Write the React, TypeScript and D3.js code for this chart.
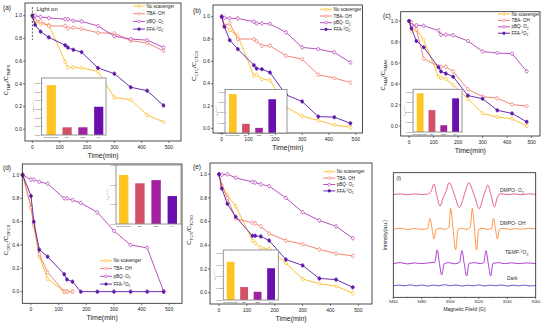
import React from "react";
import * as d3 from "d3";

const FONT = "'Liberation Sans', Arial, Helvetica, sans-serif";

// sampling times (min)
const times = [0, 10, 30, 60, 120, 130, 150, 180, 240, 300, 360, 420, 480];
const timesD = [-30, 0, 10, 30, 60, 120, 130, 150, 180, 240, 300, 360, 420, 480];
const xTicks = [0, 100, 200, 300, 400, 500];
const yTicks = [0, 0.2, 0.4, 0.6, 0.8, 1.0];

const lineColors = ["#FBBA1A", "#F0776A", "#B23DB6", "#5A17A8"];
const barColors = ["#FDC422", "#D45069", "#A1229F", "#6B0FAE"];
const barCats = ["No scavenger", "TBA", "pBQ", "FFA"];

// (a)
const aNo = [1.0, 0.95, 0.93, 0.92, 0.595, 0.545, 0.545, 0.54, 0.51, 0.28, 0.26, 0.126, 0.065];
const aTBA = [1.0, 0.96, 0.95, 0.91, 0.91, 0.89, 0.895, 0.885, 0.85, 0.845, 0.78, 0.76, 0.69];
const aPBQ = [1.0, 1.0, 0.99, 0.98, 0.97, 0.97, 0.955, 0.95, 0.91, 0.82, 0.795, 0.785, 0.72];
const aFFA = [1.0, 0.92, 0.86, 0.81, 0.74, 0.72, 0.7, 0.68, 0.54, 0.49, 0.37, 0.34, 0.21];
const aK = [0.00577, 0.00089, 0.00089, 0.00327];
const aKTicks = [0, 0.001, 0.002, 0.003, 0.004, 0.005, 0.006];

// (b)
const bNo = [1.0, 0.92, 0.88, 0.83, 0.47, 0.48, 0.44, 0.43, 0.19, 0.11, 0.07, 0.03, 0.01];
const bTBA = [1.0, 0.92, 0.94, 0.8, 0.8, 0.78, 0.74, 0.74, 0.65, 0.62, 0.48, 0.45, 0.41];
const bPBQ = [1.0, 0.99, 0.985, 0.985, 0.955, 0.94, 0.94, 0.935, 0.86, 0.725, 0.71, 0.68, 0.59];
const bFFA = [1.0, 0.91, 0.79, 0.71, 0.565, 0.535, 0.53, 0.5, 0.3, 0.24, 0.105, 0.1, 0.045];
const bK = [0.0076, 0.0018, 0.001, 0.0066];

// (c)
const cNo = [1.0, 0.905, 0.92, 0.82, 0.47, 0.46, 0.45, 0.39, 0.26, 0.12, 0.085, 0.07, 0.0];
const cTBA = [1.0, 0.99, 0.92, 0.64, 0.57, 0.565, 0.565, 0.52, 0.35, 0.28, 0.265, 0.205, 0.19];
const cPBQ = [1.0, 0.96, 0.96, 0.955, 0.91, 0.87, 0.87, 0.865, 0.81, 0.71, 0.695, 0.69, 0.52];
const cFFA = [1.0, 0.93, 0.81, 0.75, 0.56, 0.52, 0.5, 0.47, 0.29, 0.26, 0.15, 0.12, 0.04];
const cK = [0.0077, 0.00435, 0.00134, 0.0067];

// (d) starts at -30 min
const dNo = [1.0, 0.73, 0.56, 0.3, 0.11, 0, 0, 0];
const dTBA = [1.0, 0.72, 0.58, 0.32, 0.165, 0, 0, 0];
const dPBQ = [1.0, 0.96, 0.96, 0.94, 0.925, 0.8, 0.8, 0.785, 0.76, 0.68, 0.52, 0.4, 0.375, 0.0];
const dFFA = [1.0, 0.82, 0.6, 0.36, 0.3, 0.15, 0.105, 0.085, 0, 0, 0, 0, 0, 0];
const dK = [0.0249, 0.0207, 0.0223, 0.0142];
const dKTicks = [0, 0.01, 0.02, 0.03];

// (e)
const eNo = [1.0, 0.91, 0.82, 0.73, 0.44, 0.42, 0.38, 0.37, 0.25, 0.115, 0.075, 0.055, -0.005];
const eTBA = [1.0, 0.9, 0.8, 0.625, 0.59, 0.585, 0.56, 0.5, 0.44, 0.41, 0.365, 0.33, 0.31];
const ePBQ = [1.0, 0.995, 1.0, 0.97, 0.935, 0.93, 0.915, 0.9, 0.8, 0.68, 0.61, 0.56, 0.46];
const eFFA = [1.0, 0.88, 0.75, 0.64, 0.48, 0.48, 0.475, 0.44, 0.28, 0.23, 0.12, 0.11, 0.045];
const eK = [0.0065, 0.0022, 0.0014, 0.0054];
const kTicks2 = [0, 0.002, 0.004, 0.006, 0.008];

// (f) EPR spectra, [field (G), intensity (a.u.)]
const eprO2: [number, number][] = [
  [3460, 82.4], [3465, 83.0], [3470, 82.2], [3475, 83.0], [3480, 82.5], [3484, 82.8], [3486.5, 85],
  [3488.6, 90.9], [3490.5, 82], [3492.8, 73.3], [3495, 80], [3497, 85], [3499.3, 92], [3503, 82],
  [3506.4, 71.9], [3509, 79], [3510.8, 86], [3512.9, 92], [3516.8, 82], [3520.4, 71.1], [3523, 80],
  [3524.5, 85], [3526.3, 90.1], [3528.6, 82], [3531, 72.5], [3533, 80], [3535, 83.2], [3540, 82.4],
  [3545, 83], [3550, 82.3], [3555, 83], [3560, 82.6],
];
const eprOH: [number, number][] = [
  [3460, 54.6], [3465, 55.4], [3470, 54.4], [3475, 55.2], [3480, 54.5], [3484, 55], [3485.8, 63.4],
  [3487.2, 55], [3488.6, 46.8], [3490, 54.5], [3493, 55.3], [3496, 54.5], [3499, 56], [3500.3, 71.4],
  [3502, 55], [3503.8, 38.0], [3505.5, 54.5], [3508, 55.3], [3511, 54.5], [3514, 56], [3515.5, 71.4],
  [3517, 55], [3518.5, 38.0], [3520, 54.5], [3523, 55.3], [3526, 54.5], [3529, 55.2], [3530.3, 63.4],
  [3531.7, 55], [3533.1, 46.8], [3534.5, 54.6], [3538, 55.3], [3542, 54.5], [3546, 55.2], [3550, 54.6],
  [3555, 55.3], [3560, 54.8],
];
const eprTEMP: [number, number][] = [
  [3460, 27.0], [3465, 27.8], [3470, 26.8], [3475, 27.6], [3480, 27.0], [3485, 27.7], [3489, 28],
  [3490.9, 38.0], [3492.4, 27], [3494, 17.9], [3495.8, 27], [3499, 27.8], [3503, 26.9], [3506.5, 28],
  [3508.2, 37.4], [3509.8, 27], [3511.5, 17.1], [3513.2, 27.2], [3517, 27.8], [3521, 27], [3523.5, 28],
  [3525.1, 37.4], [3526.7, 27], [3528.4, 17.1], [3530, 27.2], [3534, 27.8], [3538, 27.0], [3543, 27.7],
  [3548, 27.0], [3553, 27.6], [3560, 27.1],
];
const eprDark: [number, number][] = [
  [3460, 9.0], [3464, 9.8], [3468, 9.2], [3472, 10.0], [3476, 9.1], [3480, 9.9], [3484, 9.0],
  [3488, 9.8], [3492, 9.2], [3496, 10.1], [3500, 9.3], [3504, 9.9], [3508, 9.0], [3512, 9.7],
  [3516, 9.2], [3520, 10.0], [3524, 9.1], [3528, 9.8], [3532, 9.3], [3536, 9.9], [3540, 9.0],
  [3544, 9.7], [3548, 9.2], [3552, 9.8], [3556, 9.1], [3560, 9.5],
];
const eprTicks = [3460, 3480, 3500, 3520, 3540, 3560];

type Part = { t: string; s?: "sub" | "sup" };

const legendParts: Part[][] = [
  [{ t: "No scavenger" }],
  [{ t: "TBA- OH" }],
  [{ t: "pBQ- O" }, { t: "2", s: "sub" }],
  [{ t: "FFA-" }, { t: "1", s: "sup" }, { t: "O" }, { t: "2", s: "sub" }],
];

const spans = (parts: Part[], size: number) => {
  let cur = 0;
  return parts.map((p, i) => {
    const target = p.s === "sub" ? 0.3 : p.s === "sup" ? -0.4 : 0;
    const dy = (target - cur) * size;
    cur = target;
    return (
      <tspan key={i} dy={dy} fontSize={p.s ? size * 0.7 : size}>
        {p.t}
      </tspan>
    );
  });
};

const ratioLabel = (name: string): Part[] => [
  { t: "C" }, { t: name, s: "sub" }, { t: "/C" }, { t: name + "0", s: "sub" },
];

const Inset = ({ cfg }: any) => {
  const { L, R, T, B, bx0, bx1, yDomain, ticks, fmt, values } = cfg;
  const xb = d3.scaleBand().domain(barCats).range([bx0, bx1]).paddingInner(0.42);
  const yb = d3.scaleLinear().domain(yDomain).range([B, T]);
  return (
    <g>
      <rect x={L} y={T} width={R - L} height={B - T} fill="white" />
      {values.map((v: number, i: number) => (
        <rect key={i} x={xb(barCats[i])} y={yb(v)} width={xb.bandwidth()} height={B - yb(v)} fill={barColors[i]} />
      ))}
      {ticks.map((t: number) => (
        <g key={t}>
          <line x1={L} x2={L + 1.2} y1={yb(t)} y2={yb(t)} stroke="#555" strokeWidth={0.4} />
          <text x={L - 1} y={yb(t)} dy="0.35em" textAnchor="end" fontSize={2.4} fill="#333">
            {d3.format(fmt)(t)}
          </text>
        </g>
      ))}
      {barCats.map((c) => (
        <text key={c} x={(xb(c) as number) + xb.bandwidth() / 2} y={B + 2.8} textAnchor="middle" fontSize={2.4} fill="#333">
          {c}
        </text>
      ))}
      <text transform={`translate(${L - 8},${(T + B) / 2}) rotate(-90)`} textAnchor="middle" fontSize={2.4} fill="#333">
        {spans([{ t: "k" }, { t: "obs", s: "sub" }, { t: "(min" }, { t: "-1", s: "sup" }, { t: ")" }], 2.4)}
      </text>
      <rect x={L} y={T} width={R - L} height={B - T} fill="none" stroke="#8a8a8a" strokeWidth={0.9} />
    </g>
  );
};

const LinePanel = ({ cfg }: any) => {
  const { L, R, T, B } = cfg.frame;
  const x = d3.scaleLinear().domain(cfg.xDomain).range([L, R]);
  const y = d3.scaleLinear().domain(cfg.yDomain).range([B, T]);
  const line = d3.line<[number, number]>().x((d) => x(d[0])).y((d) => y(d[1]));
  const lg = cfg.legend;
  return (
    <g fontFamily={FONT}>
      {cfg.series.map((vals: number[], si: number) => {
        const pts: [number, number][] = vals.map((v, i) => [cfg.t[i], v]);
        const c = lineColors[si];
        return (
          <g key={si}>
            <path d={line(pts) as string} fill="none" stroke={c} strokeWidth={0.9} />
            {pts.map((p, i) => (
              <g key={i}>
                <line x1={x(p[0])} x2={x(p[0])} y1={y(p[1] - 0.016)} y2={y(p[1] + 0.016)} stroke={c} strokeWidth={0.4} opacity={0.8} />
                <line x1={x(p[0]) - 0.9} x2={x(p[0]) + 0.9} y1={y(p[1] + 0.016)} y2={y(p[1] + 0.016)} stroke={c} strokeWidth={0.4} opacity={0.8} />
                <line x1={x(p[0]) - 0.9} x2={x(p[0]) + 0.9} y1={y(p[1] - 0.016)} y2={y(p[1] - 0.016)} stroke={c} strokeWidth={0.4} opacity={0.8} />
                <circle cx={x(p[0])} cy={y(p[1])} r={1.5} fill={si === 3 ? c : "white"} stroke={c} strokeWidth={0.6} />
              </g>
            ))}
          </g>
        );
      })}
      <rect x={L} y={T} width={R - L} height={B - T} fill="none" stroke="#222" strokeWidth={0.8} />
      {yTicks.map((t) => (
        <g key={t}>
          <line x1={L - 2} x2={L} y1={y(t)} y2={y(t)} stroke="#222" strokeWidth={0.6} />
          <text x={L - 3} y={y(t)} dy="0.35em" textAnchor="end" fontSize={5} fill="#222">
            {t.toFixed(1)}
          </text>
        </g>
      ))}
      {xTicks.map((t) => (
        <g key={t}>
          <line x1={x(t)} x2={x(t)} y1={B} y2={B + 2} stroke="#222" strokeWidth={0.6} />
          <text x={x(t)} y={B + 7.7} textAnchor="middle" fontSize={5} fill="#222">
            {t}
          </text>
        </g>
      ))}
      <text x={(L + R) / 2} y={B + 16.8} textAnchor="middle" fontSize={7} fill="#222">
        Time(min)
      </text>
      <text transform={`translate(${cfg.yl[0]},${cfg.yl[1]}) rotate(-90)`} textAnchor="middle" fontSize={6} fill="#222">
        {spans(ratioLabel(cfg.name), 6)}
      </text>
      <text x={cfg.tag[0]} y={cfg.tag[1]} fontSize={6.5} fill="#222">
        {cfg.label}
      </text>
      {legendParts.map((parts, i) => {
        const ly = lg.y + i * lg.dy;
        return (
          <g key={i}>
            <line x1={lg.x} x2={lg.x + 12} y1={ly} y2={ly} stroke={lineColors[i]} strokeWidth={0.9} />
            <circle cx={lg.x + 6} cy={ly} r={1.3} fill={i === 3 ? lineColors[i] : "white"} stroke={lineColors[i]} strokeWidth={0.6} />
            <text x={lg.x + 13.5} y={ly + 1.6} fontSize={4.5} fill="#222">
              {spans(parts, 4.5)}
            </text>
          </g>
        );
      })}
      {cfg.lightOn && (
        <g>
          <line x1={x(0)} x2={x(0)} y1={7} y2={40} stroke="#333" strokeWidth={0.8} strokeDasharray="2,1.5" />
          <text x={x(0) + 4} y={11} fontSize={6} fill="#222">Light on</text>
        </g>
      )}
      <Inset cfg={cfg.inset} />
    </g>
  );
};

const panels = [
  {
    label: "(a)", name: "TMP", tag: [3, 9.5], yl: [8, 80], t: times, lightOn: true,
    frame: { L: 25, R: 181, T: 3, B: 141 }, xDomain: [-27, 544], yDomain: [-0.103, 1.112],
    series: [aNo, aTBA, aPBQ, aFFA], legend: { x: 133, y: 6, dy: 7.7 },
    inset: { L: 41.5, R: 106, T: 78, B: 135, bx0: 46.7, bx1: 103.3, yDomain: [0, 0.0066], ticks: aKTicks, fmt: ".3f", values: aK },
  },
  {
    label: "(b)", name: "CTC", tag: [193, 13], yl: [196, 66], t: times,
    frame: { L: 213, R: 362.5, T: 5, B: 133 }, xDomain: [-32.5, 525], yDomain: [-0.042, 1.105],
    series: [bNo, bTBA, bPBQ, bFFA], legend: { x: 320, y: 9.3, dy: 6.7 },
    inset: { L: 225, R: 287, T: 89.5, B: 133, bx0: 229, bx1: 276, yDomain: [0, 0.0085], ticks: kTicks2, fmt: ".3f", values: bK },
  },
  {
    label: "(c)", name: "SMA", tag: [383, 18], yl: [385, 75], t: times,
    frame: { L: 400.7, R: 540, T: 11.7, B: 136 }, xDomain: [-34, 534], yDomain: [-0.095, 1.089],
    series: [cNo, cTBA, cPBQ, cFFA], legend: { x: 498, y: 14, dy: 6.4 },
    inset: { L: 413, R: 462, T: 89.3, B: 132, bx0: 416.7, bx1: 459, yDomain: [0, 0.0085], ticks: kTicks2, fmt: ".3f", values: cK },
  },
  {
    label: "(d)", name: "OFC", tag: [3, 170], yl: [8, 240], t: timesD,
    frame: { L: 22.3, R: 182, T: 164, B: 303.3 }, xDomain: [-31.5, 546], yDomain: [-0.1, 1.094],
    series: [dNo, dTBA, dPBQ, dFFA], legend: { x: 100, y: 260.7, dy: 7.8 },
    inset: { L: 116, R: 181, T: 165, B: 224, bx0: 119, bx1: 177, yDomain: [0, 0.03], ticks: dKTicks, fmt: ".2f", values: dK },
  },
  {
    label: "(e)", name: "TCS", tag: [193, 169], yl: [191, 230], t: times,
    frame: { L: 210, R: 372, T: 163, B: 304 }, xDomain: [-32.3, 549], yDomain: [-0.096, 1.095],
    series: [eNo, eTBA, ePBQ, eFFA], legend: { x: 323.3, y: 171.7, dy: 6.4 },
    inset: { L: 223.3, R: 278.3, T: 250, B: 300, bx0: 226.7, bx1: 275, yDomain: [0, 0.0085], ticks: kTicks2, fmt: ".3f", values: eK },
  },
];

const eprSeries = [
  { data: eprO2, color: "#E2507E", label: [{ t: "DMPO- O" }, { t: "2", s: "sub" }, { t: "·-", s: "sup" }] as Part[], pos: [500, 192] },
  { data: eprOH, color: "#FF8A3D", label: [{ t: "DMPO- OH" }] as Part[], pos: [500, 224.5] },
  { data: eprTEMP, color: "#A22CC6", label: [{ t: "TEMP-" }, { t: "1", s: "sup" }, { t: "O" }, { t: "2", s: "sub" }] as Part[], pos: [505, 254] },
  { data: eprDark, color: "#5B3DD0", label: [{ t: "Dark" }] as Part[], pos: [507, 280] },
];

const EprPanel = () => {
  const L = 393.3, R = 535.7, T = 172.7, B = 297.3;
  const x = d3.scaleLinear().domain([3460, 3560]).range([L, R]);
  const y = d3.scaleLinear().domain([0, 100]).range([B, T]);
  const line = d3.line<[number, number]>().x((d) => x(d[0])).y((d) => y(d[1])).curve(d3.curveMonotoneX);
  const minor = d3.range(3470, 3560, 20);
  return (
    <g fontFamily={FONT}>
      {eprSeries.map((s, i) => (
        <g key={i}>
          <path d={line(s.data) as string} fill="none" stroke={s.color} strokeWidth={0.9} />
          <text x={s.pos[0]} y={s.pos[1]} fontSize={5} fill="#333">
            {spans(s.label, 5)}
          </text>
        </g>
      ))}
      <rect x={L} y={T} width={R - L} height={B - T} fill="none" stroke="#222" strokeWidth={0.8} />
      {eprTicks.map((t) => (
        <g key={t}>
          <line x1={x(t)} x2={x(t)} y1={B} y2={B + 1.8} stroke="#222" strokeWidth={0.6} />
          <text x={x(t)} y={B + 6} textAnchor="middle" fontSize={4} fill="#222">{t}</text>
        </g>
      ))}
      {minor.map((t) => (
        <line key={t} x1={x(t)} x2={x(t)} y1={B} y2={B + 1} stroke="#222" strokeWidth={0.5} />
      ))}
      <text x={(L + R) / 2} y={B + 13.5} textAnchor="middle" fontSize={5} fill="#222">
        Magneitc Fileld (G)
      </text>
      <text transform={`translate(${L - 6},${(T + B) / 2}) rotate(-90)`} textAnchor="middle" fontSize={5} fill="#222">
        Intensity(a.u.)
      </text>
      <text x={L + 3} y={T + 7.5} fontSize={5} fill="#222">(f)</text>
    </g>
  );
};

export default function App() {
  return (
    <svg width={550} height={327} style={{ position: "absolute", left: 0, top: 0, background: "white" }}>
      <rect width={550} height={327} fill="white" />
      {panels.map((p) => (
        <LinePanel key={p.label} cfg={p} />
      ))}
      <EprPanel />
    </svg>
  );
}
